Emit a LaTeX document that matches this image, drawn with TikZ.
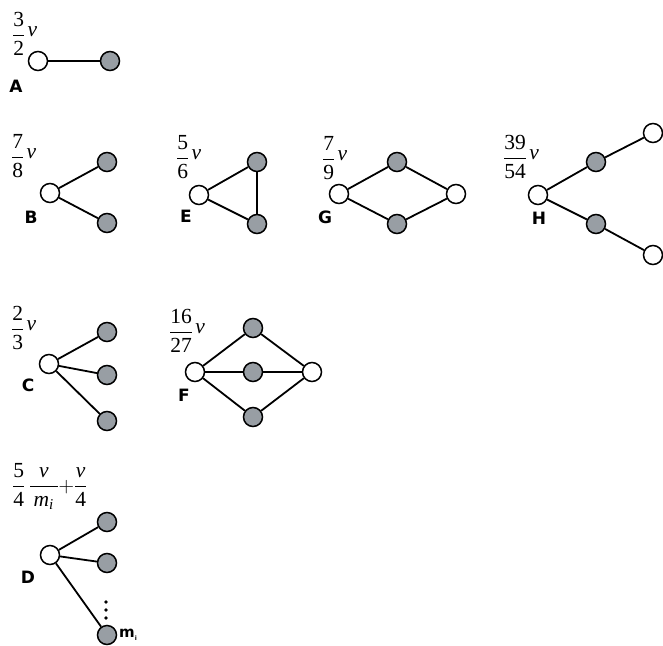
\RequirePackage{fix-cm}
\documentclass[tikz,border=0pt]{standalone}
\usepackage{amsmath}
\usepackage{fontspec}
\setmainfont{Liberation Serif}
\newfontfamily\tagfont{DejaVu Sans}
\definecolor{leafgray}{RGB}{152,158,164}
\newcommand{\rv}{\mkern2mu\raisebox{5pt}{\itshape v}}
\newcommand{\fr}[2]{\dfrac{\text{#1}}{\text{#2}}}

\begin{document}
\begin{tikzpicture}[
  x=1pt,
  y=-1pt,
  vtx/.style={
    circle,
    draw=black,
    line width=1.5pt,
    minimum size=19pt,
    inner sep=0pt
  },
  hub/.style={vtx, fill=white},
  leaf/.style={vtx, fill=leafgray},
  link/.style={draw=black, line width=1.8pt},
  tag/.style={font=\tagfont\bfseries\fontsize{17}{17}\selectfont, inner sep=0pt},
  rate/.style={font=\fontsize{21.5}{24}\selectfont, anchor=base west, inner sep=0pt},
  dotmark/.style={circle, fill=black, minimum size=3.8pt, inner sep=0pt}
]
\useasboundingbox (0,0) rectangle (663,645);

% ---------------------------------------------------------------------------
% A: single edge
% ---------------------------------------------------------------------------
\node[rate] (a-rate) at (12,41) {$\fr{3}{2}\rv$};
\node[hub] (a-root) at (38,61) {};
\node[leaf] (a-leaf) at (110,61) {};
\draw[link] (a-root) -- (a-leaf);
\node[tag] (a-tag) at (16,86) {A};

% ---------------------------------------------------------------------------
% B, E, G, H: second row
% ---------------------------------------------------------------------------
\node[rate] (b-rate) at (11,163) {$\fr{7}{8}\rv$};
\node[hub] (b-root) at (50,193) {};
\node[leaf] (b-up) at (107,162) {};
\node[leaf] (b-down) at (107,223) {};
\draw[link] (b-root) -- (b-up);
\draw[link] (b-root) -- (b-down);
\node[tag] (b-tag) at (31,217) {B};

\node[rate] (e-rate) at (176,164) {$\fr{5}{6}\rv$};
\node[hub] (e-root) at (199,195) {};
\node[leaf] (e-up) at (257,162) {};
\node[leaf] (e-down) at (257,224) {};
\draw[link] (e-root) -- (e-up);
\draw[link] (e-root) -- (e-down);
\draw[link] (e-up) -- (e-down);
\node[tag] (e-tag) at (186,216) {E};

\node[rate] (g-rate) at (322,165) {$\fr{7}{9}\rv$};
\node[hub] (g-root) at (339,194) {};
\node[leaf] (g-up) at (397,162) {};
\node[leaf] (g-down) at (397,224) {};
\node[hub] (g-far) at (456,194) {};
\draw[link] (g-root) -- (g-up) -- (g-far);
\draw[link] (g-root) -- (g-down) -- (g-far);
\node[tag] (g-tag) at (325,217) {G};

\node[rate] (h-rate) at (503,164) {$\fr{39}{54}\rv$};
\node[hub] (h-root) at (538,195) {};
\node[leaf] (h-up) at (596,162) {};
\node[hub] (h-upfar) at (653,133) {};
\node[leaf] (h-down) at (596,224) {};
\node[hub] (h-downfar) at (653,255) {};
\draw[link] (h-root) -- (h-up) -- (h-upfar);
\draw[link] (h-root) -- (h-down) -- (h-downfar);
\node[tag] (h-tag) at (539,218) {H};

% ---------------------------------------------------------------------------
% C, F: third row
% ---------------------------------------------------------------------------
\node[rate] (c-rate) at (11,335) {$\fr{2}{3}\rv$};
\node[hub] (c-root) at (49,364) {};
\node[leaf] (c-up) at (107,332) {};
\node[leaf] (c-mid) at (107,375) {};
\node[leaf] (c-down) at (107,421) {};
\foreach \k in {up,mid,down}
  \draw[link] (c-root) -- (c-\k);
\node[tag] (c-tag) at (28,385) {C};

\node[rate] (f-rate) at (169,338) {$\fr{16}{27}\rv$};
\node[hub] (f-root) at (195,372) {};
\node[leaf] (f-up) at (253,328) {};
\node[leaf] (f-mid) at (253,372) {};
\node[leaf] (f-down) at (253,417) {};
\node[hub] (f-far) at (312,372) {};
\foreach \k in {up,mid,down}
  \draw[link] (f-root) -- (f-\k) -- (f-far);
\node[tag] (f-tag) at (184,395) {F};

% ---------------------------------------------------------------------------
% D: star with m_i leaves
% ---------------------------------------------------------------------------
\node[rate] (d-rate) at (12,492)
  {$\fr{5}{4}\,\dfrac{\textit{v}}{\,\text{\itshape m}_{\text{\itshape i}}\,}{+}\fr{\itshape v}{4}$};
\node[hub] (d-root) at (50,555) {};
\node[leaf] (d-up) at (107,522) {};
\node[leaf] (d-mid) at (107,563) {};
\node[leaf] (d-last) at (107,635) {};
\foreach \k in {up,mid,last}
  \draw[link] (d-root) -- (d-\k);
\foreach \j/\yy in {1/602,2/610,3/618}
  \node[dotmark] (d-dot\j) at (106,\yy) {};
\node[tag, anchor=west, font=\tagfont\bfseries\fontsize{15}{15}\selectfont] (d-count) at (119,635)
  {m\raisebox{-3pt}{\fontsize{6}{6}\selectfont i}};
\node[tag] (d-tag) at (28,577) {D};
\end{tikzpicture}
\end{document}
